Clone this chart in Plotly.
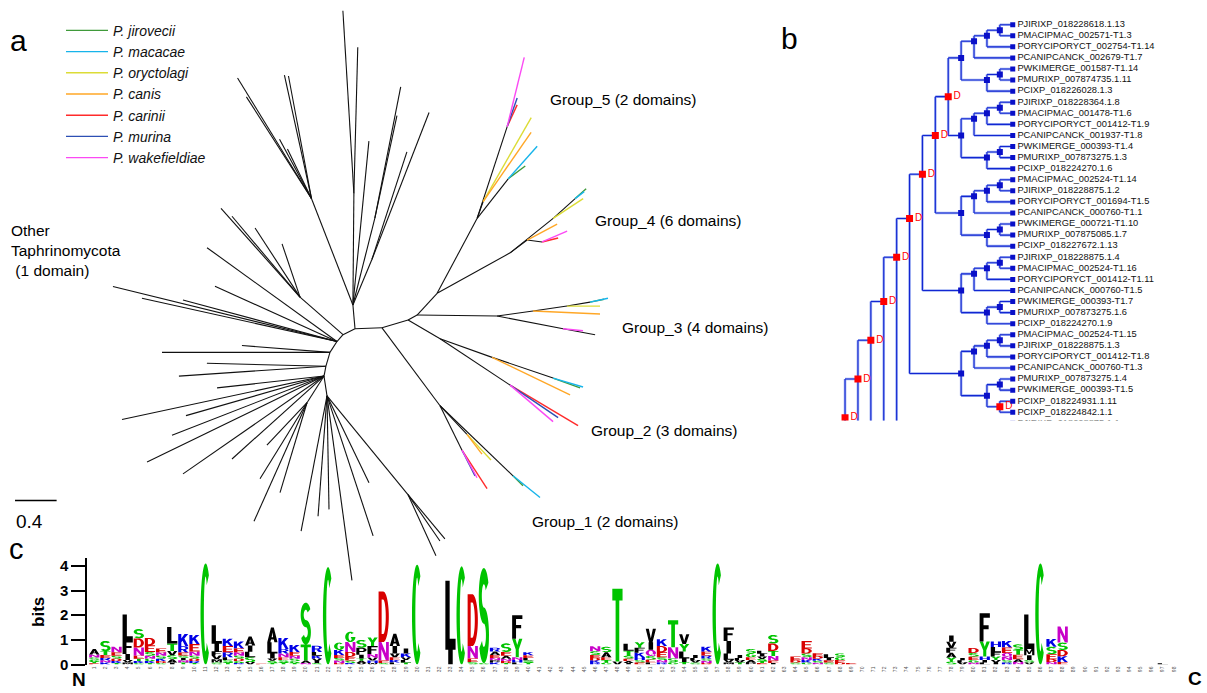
import math
import plotly.graph_objects as go

FW, FH = 1207, 693
FONT = "Liberation Sans, Arial, sans-serif"

# ====================== Panel a : unrooted tree ======================
species_names = ["P. jirovecii", "P. macacae", "P. oryctolagi", "P. canis",
                 "P. carinii", "P. murina", "P. wakefieldiae"]
species_keys = ["jir", "mac", "ory", "can", "car", "mur", "wak"]
species_colors = ["#3f9a3a", "#17b4ea", "#dcdc36", "#ffa726",
                  "#ff2b2b", "#2d4fb4", "#fb49f4"]

# branch table: (node, parent, angle in degrees, branch length, clade key)
tree_branches = [
    ("N1", "R", 79, 0.098, "k"), ("N2", "N1", 74, 0.140, "k"),
    ("N3", "N2", 57.5, 0.125, "k"), ("N4", "N3", 49, 0.089, "k"),
    ("N5", "N4", 26.6, 0.129, "k"), ("N6", "N5", 2, 0.260, "k"),
    ("N7", "N6", 17, 0.262, "k"), ("N8", "N7", 29, 0.099, "k"),
    ("N9", "N8", 47.7, 0.286, "k"),
    # top fan
    ("T0", "N5", 95, 0.232, "k"), ("T1", "T0", 89.5, 1.087, "k"),
    ("t1", "T1", 93.4, 1.782, "k"), ("t2", "T1", 88.5, 1.424, "k"),
    ("t3", "T0", 84.5, 1.604, "k"), ("T2", "T0", 76, 0.872, "k"),
    ("t4", "T2", 79, 1.303, "k"), ("t5", "T2", 78, 1.022, "k"),
    ("T3", "T0", 67.6, 0.479, "k"), ("t6", "T3", 69, 1.534, "k"),
    ("t7", "T3", 72.2, 1.101, "k"),
    # upper-left fan
    ("U0", "T0", 111, 1.112, "k"), ("u1", "U0", 121.2, 1.372, "k"),
    ("u2", "U0", 122.3, 1.171, "k"), ("u3", "U0", 102.2, 1.230, "k"),
    ("u4", "U0", 100.5, 1.213, "k"), ("u5", "U0", 118, 0.654, "k"),
    ("u6", "U0", 115.6, 0.534, "k"),
    # left side (other Taphrinomycota)
    ("L1", "N4", 138.5, 0.552, "k"), ("l1", "L1", 131.3, 1.151, "k"),
    ("l2", "L1", 129.7, 1.024, "k"), ("l3", "L1", 122.7, 0.800, "k"),
    ("l4", "L1", 108.4, 0.547, "k"), ("l5", "N3", 143.8, 1.548, "k"),
    ("l6", "N3", 166, 2.220, "k"), ("l7", "N3", 167.3, 1.922, "k"),
    ("l8", "N3", 155.3, 1.291, "k"), ("l9", "N3", 164.7, 1.535, "k"),
    ("l10", "N2", 180, 1.615, "k"), ("l11", "N2", 175.5, 0.849, "k"),
    ("l12", "N1", 178.6, 1.145, "k"), ("l13", "N1", 183.9, 1.417, "k"),
    ("l14", "R", 186.4, 1.035, "k"), ("l15", "R", 192.3, 1.988, "k"),
    ("l16", "R", 196.2, 1.382, "k"), ("l17", "R", 201.5, 1.571, "k"),
    ("l18", "R", 206.2, 1.896, "k"), ("l19", "R", 215.1, 1.657, "k"),
    ("l20", "R", 222.4, 1.198, "k"), ("L2", "R", 237.8, 0.307, "k"),
    ("l21", "L2", 227, 0.565, "k"), ("l22", "L2", 238.6, 0.867, "k"),
    ("l23", "L2", 253.5, 0.913, "k"), ("l24", "L2", 246.2, 1.262, "k"),
    # bottom fan
    ("B0", "R", 278.5, 0.195, "k"), ("b1", "B0", 259.3, 1.341, "k"),
    ("b2", "B0", 265.8, 1.176, "k"), ("b3", "B0", 271, 1.106, "k"),
    ("b4", "B0", 277.6, 1.814, "k"), ("b5", "B0", 288, 1.435, "k"),
    ("b6", "B0", 295.5, 0.938, "k"), ("B1", "B0", 309, 1.237, "k"),
    ("b7", "B1", 294.3, 0.654, "k"), ("b8", "B1", 309.4, 0.560, "k"),
    ("b9", "B1", 304.2, 0.547, "k"),
    # Group_1
    ("G1a", "N6", 306.3, 0.942, "k"), ("G1b", "G1a", 312.9, 0.381, "k"),
    ("g1", "G1b", 306.9, 0.240, "can"), ("g2", "G1b", 312.7, 0.340, "ory"),
    ("G1c", "G1a", 296, 0.482, "k"), ("g3", "G1c", 298.2, 0.305, "wak"),
    ("g4", "G1c", 296.6, 0.280, "mur"), ("g5", "G1c", 302.7, 0.446, "car"),
    ("G1d", "G1a", 315.8, 0.979, "k"), ("g6", "G1d", 315, 0.136, "jir"),
    ("g7", "G1d", 320.8, 0.335, "mac"),
    # Group_2
    ("G2a", "N7", 329.3, 0.358, "k"), ("G2b", "G2a", 326.1, 0.811, "k"),
    ("g8", "G2b", 319.3, 0.545, "wak"), ("g9", "G2b", 325.5, 0.560, "mur"),
    ("g10", "G2b", 328.9, 0.763, "car"), ("G2c", "G2a", 340, 0.532, "k"),
    ("g11", "G2c", 334, 0.834, "can"), ("G2d", "G2c", 341, 0.620, "k"),
    ("g12", "G2d", 339.7, 0.277, "jir"), ("g13", "G2d", 343.3, 0.301, "mac"),
    # Group_3
    ("G3a", "N8", 359.3, 0.769, "k"), ("G3b", "G3a", 7.9, 0.349, "k"),
    ("g14", "G3b", 357.4, 0.645, "can"), ("G3c", "G3b", 8.4, 0.331, "k"),
    ("g15", "G3c", 0, 0.317, "ory"), ("G3d", "G3c", 9.9, 0.224, "k"),
    ("g16", "G3d", 12, 0.138, "jir"), ("g17", "G3d", 12.5, 0.177, "mac"),
    ("G3f", "G3a", 348.9, 0.647, "k"), ("g18", "G3f", 349.4, 0.313, "k"),
    ("g19", "G3f", 354.3, 0.193, "wak"),
    # Group_4
    ("G4a", "N9", 29.3, 0.805, "k"), ("G4b", "G4a", 39.1, 0.533, "k"),
    ("G4c", "G4b", 42.3, 0.286, "k"), ("g20", "G4c", 42.3, 0.143, "jir"),
    ("g21", "G4c", 37.9, 0.110, "mac"), ("g22", "G4b", 33.7, 0.347, "ory"),
    ("G4d", "G4a", 37.4, 0.206, "k"), ("g23", "G4d", 28.1, 0.327, "can"),
    ("G4e", "G4d", 352.4, 0.145, "k"), ("g24", "G4e", 23.7, 0.263, "wak"),
    ("g25", "G4e", 14, 0.159, "car"),
    # Group_5
    ("G5a", "N9", 62.2, 0.826, "k"), ("G5b", "G5a", 72.1, 0.939, "k"),
    ("g26", "G5b", 76.3, 0.693, "wak"), ("g27", "G5b", 71, 0.295, "mur"),
    ("g28", "G5b", 65.6, 0.232, "car"), ("G5c", "G5a", 70.6, 0.173, "k"),
    ("g29", "G5c", 60.5, 0.939, "ory"), ("g30", "G5c", 55.6, 0.816, "can"),
    ("G5d", "G5a", 52.2, 0.487, "k"), ("g31", "G5d", 48.7, 0.422, "mac"),
    ("g32", "G5d", 37.4, 0.206, "jir"),
]
group_labels = ["Group_5 (2 domains)", "Group_4 (6 domains)", "Group_3 (4 domains)",
                "Group_2 (3 domains)", "Group_1 (2 domains)"]
other_label = "Other<br>Taphrinomycota<br>\u00a0(1 domain)"
scale_bar_length = 0.4

# ====================== Panel b : gene tree ======================
b_leaf_names = [
    "PJIRIXP_018228618.1.13", "PMACIPMAC_002571-T1.3", "PORYCIPORYCT_002754-T1.14",
    "PCANIPCANCK_002679-T1.7", "PWKIMERGE_001587-T1.14", "PMURIXP_007874735.1.11",
    "PCIXP_018226028.1.3", "PJIRIXP_018228364.1.8", "PMACIPMAC_001478-T1.6",
    "PORYCIPORYCT_001412-T1.9", "PCANIPCANCK_001937-T1.8", "PWKIMERGE_000393-T1.4",
    "PMURIXP_007873275.1.3", "PCIXP_018224270.1.6", "PMACIPMAC_002524-T1.14",
    "PJIRIXP_018228875.1.2", "PORYCIPORYCT_001694-T1.5", "PCANIPCANCK_000760-T1.1",
    "PWKIMERGE_000721-T1.10", "PMURIXP_007875085.1.7", "PCIXP_018227672.1.13",
    "PJIRIXP_018228875.1.4", "PMACIPMAC_002524-T1.16", "PORYCIPORYCT_001412-T1.11",
    "PCANIPCANCK_000760-T1.5", "PWKIMERGE_000393-T1.7", "PMURIXP_007873275.1.6",
    "PCIXP_018224270.1.9", "PMACIPMAC_002524-T1.15", "PJIRIXP_018228875.1.3",
    "PORYCIPORYCT_001412-T1.8", "PCANIPCANCK_000760-T1.3", "PMURIXP_007873275.1.4",
    "PWKIMERGE_000393-T1.5", "PCIXP_018224931.1.11", "PCIXP_018224842.1.1",
    "PJIRIXP_018228875.1.1",
]
b_groups = [
    ((((0, 1), 2), 3), ((4, 5), 6)),
    ((((7, 8), 9), 10), ((11, 12), 13)),
    ((((14, 15), 16), 17), ((18, 19), 20)),
    ((((21, 22), 23), 24), ((25, 26), 27)),
    ((((28, 29), 30), 31), ((32, 33), (34, 35))),
    ((((36, 37), 38), 39), ((40, 41), 42)),
    ((((43, 44), 45), 46), ((47, 48), (49, 50))),
    ((((51, 52), 53), 54), ((55, 56), 57)),
    ((((58, 59), 60), 61), ((62, 63), 64)),
    ((((65, 66), 67), 68), ((69, 70), 71)),
]
b_duplication_spans = [(0, 13), (0, 20), (0, 27), (0, 35), (0, 42), (0, 50),
                       (0, 57), (0, 64), (0, 71), (34, 35)]

# ====================== Panel c : sequence logo ======================
logo_stacks = {
    0: [("A", .22), ("N", .12), ("S", .1), ("G", .08), ("T", .06), ("E", .05)],
    1: [("S", .42), ("T", .15), ("E", .12), ("R", .1), ("N", .09), ("K", .08)],
    2: [("N", .22), ("E", .14), ("S", .12), ("D", .1), ("K", .08), ("T", .06)],
    3: [("L", 1.05), ("F", .55), ("I", .25), ("V", .1), ("M", .08)],
    4: [("S", .38), ("D", .37), ("N", .33), ("E", .12), ("T", .1), ("K", .08), ("G", .06)],
    5: [("D", .3), ("E", .27), ("S", .15), ("N", .12), ("G", .1), ("K", .08), ("T", .06)],
    6: [("E", .15), ("N", .14), ("S", .12), ("K", .1), ("D", .08), ("G", .06)],
    7: [("L", .67), ("T", .3), ("V", .17), ("S", .16), ("A", .14), ("I", .08)],
    8: [("K", .5), ("R", .25), ("E", .12), ("I", .1), ("S", .1), ("N", .09), ("T", .08)],
    9: [("K", .37), ("E", .3), ("N", .17), ("S", .12), ("D", .1), ("R", .08), ("T", .06)],
    10: [("C", 4.1)],
    11: [("L", .75), ("I", .3), ("F", .17), ("V", .15), ("M", .14), ("S", .08)],
    12: [("K", .3), ("E", .25), ("R", .2), ("L", .12), ("S", .1), ("T", .08)],
    13: [("K", .28), ("E", .15), ("N", .14), ("S", .12), ("D", .1), ("G", .08), ("R", .06)],
    14: [("A", .37), ("I", .25), ("L", .22), ("S", .2), ("V", .1)],
    15: [("E", .03)],
    16: [("A", .6), ("L", .45), ("I", .2), ("V", .1), ("S", .09), ("T", .06)],
    17: [("K", .45), ("R", .18), ("N", .15), ("E", .12), ("S", .1), ("T", .08)],
    18: [("K", .28), ("E", .15), ("N", .12), ("S", .1), ("G", .08), ("T", .06)],
    19: [("S", 1.7), ("T", .65), ("A", .1), ("N", .06)],
    20: [("R", .25), ("L", .15), ("K", .12), ("V", .1), ("I", .08), ("S", .06)],
    21: [("C", 3.95)],
    22: [("G", .3), ("K", .2), ("E", .12), ("S", .11), ("N", .1), ("D", .06)],
    23: [("G", .42), ("N", .4), ("D", .2), ("E", .15), ("S", .1), ("K", .06)],
    24: [("S", .32), ("P", .28), ("I", .15), ("T", .1), ("A", .09), ("V", .06)],
    25: [("Y", .35), ("F", .32), ("N", .15), ("V", .12), ("H", .1), ("W", .06)],
    26: [("D", 2.05), ("N", .75), ("E", .1), ("S", .06)],
    27: [("A", .5), ("I", .3), ("V", .15), ("E", .12), ("K", .1), ("L", .08)],
    28: [("I", .2), ("K", .15), ("V", .12), ("L", .1), ("T", .08)],
    29: [("C", 4.05)],
    32: [("L", 2.8), ("I", .6)],
    33: [("C", 3.98)],
    34: [("D", 2.1), ("N", .5), ("E", .15), ("S", .1)],
    35: [("S", 3.85), ("G", .06)],
    36: [("R", .15), ("A", .14), ("E", .12), ("N", .1), ("P", .09), ("K", .08)],
    37: [("S", .35), ("E", .15), ("A", .12), ("N", .1), ("D", .08), ("T", .06)],
    38: [("F", .95), ("Y", .75), ("N", .12), ("H", .1), ("L", .08)],
    39: [("K", .12), ("E", .11), ("L", .1), ("S", .09), ("T", .08)],
    45: [("N", .2), ("S", .15), ("E", .12), ("D", .1), ("K", .09), ("R", .08)],
    46: [("S", .22), ("A", .2), ("E", .12), ("T", .1), ("G", .08)],
    47: [("T", 2.95), ("V", .12)],
    48: [("L", .28), ("T", .2), ("S", .12), ("E", .1), ("A", .08), ("I", .06)],
    49: [("Y", .22), ("F", .2), ("K", .18), ("H", .12), ("S", .1), ("E", .08)],
    50: [("V", .55), ("I", .3), ("Q", .25), ("S", .15), ("E", .12), ("L", .08)],
    51: [("K", .28), ("D", .25), ("E", .2), ("S", .12), ("N", .1), ("R", .08)],
    52: [("T", 1.1), ("N", .45), ("S", .15), ("G", .1)],
    53: [("V", .4), ("Y", .3), ("L", .28), ("I", .15), ("T", .1)],
    54: [("I", .12), ("L", .1), ("V", .09), ("S", .08)],
    55: [("K", .2), ("E", .15), ("R", .12), ("S", .1), ("N", .09), ("D", .06)],
    56: [("C", 4.1)],
    57: [("F", .55), ("I", .5), ("L", .25), ("V", .12), ("M", .08)],
    58: [("I", .12), ("L", .1), ("V", .09), ("T", .08)],
    59: [("S", .18), ("G", .15), ("E", .12), ("A", .1), ("P", .08)],
    60: [("L", .12), ("I", .11), ("V", .1), ("S", .09), ("T", .08), ("E", .06)],
    61: [("S", .35), ("D", .3), ("T", .2), ("N", .19), ("E", .1), ("I", .06)],
    63: [("E", .15), ("D", .1), ("S", .08)],
    64: [("E", .3), ("D", .2), ("S", .15), ("N", .12), ("K", .1), ("G", .08)],
    65: [("E", .12), ("D", .1), ("K", .09), ("S", .08), ("N", .07)],
    66: [("L", .15), ("I", .1), ("E", .09), ("S", .08)],
    67: [("S", .15), ("G", .12), ("E", .1), ("D", .08)],
    68: [("E", .06)],
    77: [("I", .26), ("V", .24), ("F", .2), ("A", .19), ("Y", .17), ("S", .12)],
    78: [("I", .1), ("L", .09), ("V", .08)],
    79: [("D", .2), ("S", .15), ("E", .14), ("G", .1), ("N", .08)],
    80: [("F", 1.15), ("Y", .6), ("H", .15), ("I", .1), ("L", .08)],
    81: [("H", .22), ("L", .2), ("F", .18), ("Y", .15), ("V", .1), ("I", .08)],
    82: [("K", .27), ("E", .22), ("Q", .15), ("N", .14), ("S", .1), ("R", .08)],
    83: [("S", .22), ("T", .2), ("E", .18), ("A", .12), ("N", .1)],
    84: [("L", 1.4), ("M", .25), ("I", .2), ("S", .1), ("V", .08)],
    85: [("C", 4.1)],
    86: [("K", .32), ("S", .3), ("E", .2), ("D", .12), ("N", .1)],
    87: [("N", .65), ("S", .3), ("D", .25), ("K", .24), ("E", .1)],
    96: [("L", .05)],
}
logo_n_columns = 98
aa_classes = {"G": "polar", "S": "polar", "T": "polar", "Y": "polar", "C": "polar",
              "N": "neutral", "Q": "neutral", "K": "basic", "R": "basic", "H": "basic",
              "D": "acidic", "E": "acidic"}
class_colors = {"polar": "#00c400", "neutral": "#c800c8", "basic": "#0000e6",
                "acidic": "#d80000", "hydrophobic": "#000000"}

# ---------------------------------------------------------------------
def arc(cx, cy, rx, ry, a0, a1, n=32):
    pts = []
    for k in range(n + 1):
        t = math.radians(a0 + (a1 - a0) * k / n)
        pts.append((cx + rx * math.cos(t), cy + ry * math.sin(t)))
    return pts


def holed(outer, hole):
    return outer + [outer[0]] + hole + [hole[0], outer[0]]


SIMPLE = {
    "L": [(0, 0), (1, 0), (1, .16), (.42, .16), (.42, 1), (0, 1)],
    "I": [(.28, 0), (.72, 0), (.72, 1), (.28, 1)],
    "T": [(.32, 0), (.68, 0), (.68, .84), (1, .84), (1, 1), (0, 1), (0, .84), (.32, .84)],
    "F": [(0, 0), (.38, 0), (.38, .44), (.88, .44), (.88, .58), (.38, .58), (.38, .84),
          (1, .84), (1, 1), (0, 1)],
    "E": [(0, 0), (1, 0), (1, .15), (.34, .15), (.34, .43), (.9, .43), (.9, .57),
          (.34, .57), (.34, .85), (1, .85), (1, 1), (0, 1)],
    "H": [(0, 0), (.3, 0), (.3, .43), (.7, .43), (.7, 0), (1, 0), (1, 1), (.7, 1),
          (.7, .58), (.3, .58), (.3, 1), (0, 1)],
    "K": [(0, 0), (.3, 0), (.3, .33), (.42, .46), (.7, 0), (1, 0), (.6, .63), (.98, 1),
          (.62, 1), (.3, .64), (.3, 1), (0, 1)],
    "N": [(0, 0), (.27, 0), (.27, .62), (.72, 0), (1, 0), (1, 1), (.73, 1), (.73, .38),
          (.28, 1), (0, 1)],
    "M": [(0, 0), (.22, 0), (.22, .7), (.42, .2), (.58, .2), (.78, .7), (.78, 0), (1, 0),
          (1, 1), (.72, 1), (.5, .45), (.28, 1), (0, 1)],
    "V": [(.33, 0), (.67, 0), (1, 1), (.7, 1), (.5, .3), (.3, 1), (0, 1)],
    "Y": [(.35, 0), (.65, 0), (.65, .42), (1, 1), (.68, 1), (.5, .66), (.32, 1), (0, 1),
          (.35, .42)],
    "W": [(0, 1), (.15, 0), (.36, 0), (.5, .55), (.64, 0), (.85, 0), (1, 1), (.8, 1),
          (.72, .4), (.58, 1), (.42, 1), (.28, .4), (.2, 1)],
}


def glyph(ch):
    if ch == "C":
        return [arc(.5, .5, .5, .5, 50, 310) + arc(.5, .5, .17, .37, 310, 50)]
    if ch == "G":
        return [arc(.5, .5, .5, .5, 48, 360) + [(.56, .5), (.56, .36)]
                + arc(.5, .5, .17, .37, 335, 48)]
    if ch in ("O", "Q"):
        ring = holed(arc(.5, .5, .5, .5, 0, 360), arc(.5, .5, .2, .34, 360, 0))
        if ch == "Q":
            return [ring, [(.55, .28), (.78, .28), (1, 0), (.76, 0)]]
        return [ring]
    if ch == "S":
        hx, hy = .15, .085
        rx, ry = .5 - hx, (1 - 2 * hy) / 4
        cu, cl = 1 - ry - hy, ry + hy
        a = arc(.5, cu, rx + hx, ry + hy, 28, 270) + arc(.5, cl, rx - hx, ry - hy, 90, -152)
        b = arc(.5, cu, rx - hx, ry - hy, 28, 270) + arc(.5, cl, rx + hx, ry + hy, 90, -152)
        return [a + b[::-1]]
    if ch == "D":
        o = [(0, 0), (.45, 0)] + arc(.45, .5, .55, .5, -90, 90)[1:-1] + [(.45, 1), (0, 1)]
        h = [(.3, .16), (.3, .84), (.45, .84)] + arc(.45, .5, .25, .34, 90, -90)[1:-1] + [(.45, .16)]
        return [holed(o, h)]
    if ch == "P":
        o = [(0, 0), (.3, 0), (.3, .38), (.55, .38)] + arc(.55, .69, .45, .31, -90, 90)[1:-1] + [(.55, 1), (0, 1)]
        h = [(.3, .52), (.3, .86), (.55, .86)] + arc(.55, .69, .17, .17, 90, -90)[1:-1] + [(.55, .52)]
        return [holed(o, h)]
    if ch == "R":
        o = [(0, 0), (.3, 0), (.3, .42), (.55, .42)] + arc(.55, .71, .43, .29, -90, 90)[1:-1] + [(.55, 1), (0, 1)]
        h = [(.3, .55), (.3, .87), (.55, .87)] + arc(.55, .71, .16, .16, 90, -90)[1:-1] + [(.55, .55)]
        return [holed(o, h), [(.4, .46), (.72, .46), (1, 0), (.68, 0)]]
    if ch == "A":
        o = [(0, 0), (.3, 0), (.37, .2), (.63, .2), (.7, 0), (1, 0), (.64, 1), (.36, 1)]
        h = [(.43, .34), (.5, .68), (.57, .34)]
        return [holed(o, h)]
    return [SIMPLE.get(ch, [(0, 0), (1, 0), (1, 1), (0, 1)])]


def ann(text, x, y, size, xanchor="left", yanchor="middle", **kw):
    d = dict(text=text, x=x / FW, y=1 - y / FH, xref="paper", yref="paper",
             showarrow=False, xanchor=xanchor, yanchor=yanchor,
             font=dict(size=size, color="black", family=FONT))
    d.update(kw)
    return d


fig = go.Figure()

# ---------------- panel a traces ----------------
pos = {"R": (0.0, 0.0)}
segs = {k: ([], []) for k in ["k"] + species_keys}
for node, parent, ang, ln, key in tree_branches:
    x0, y0 = pos[parent]
    t = math.radians(ang)
    x1, y1 = x0 + ln * math.cos(t), y0 + ln * math.sin(t)
    pos[node] = (x1, y1)
    segs[key][0].extend([x0, x1, None])
    segs[key][1].extend([y0, y1, None])

fig.add_trace(go.Scatter(x=segs["k"][0], y=segs["k"][1], mode="lines",
                         line=dict(color="#111111", width=1.1), showlegend=False,
                         hoverinfo="skip", xaxis="x", yaxis="y"))
for i, key in enumerate(species_keys):
    fig.add_trace(go.Scatter(x=segs[key][0], y=segs[key][1], mode="lines",
                             line=dict(color=species_colors[i], width=1.4),
                             name=species_names[i], legendrank=i + 1,
                             hoverinfo="skip", xaxis="x", yaxis="y"))
# scale bar
sb_x0, sb_y = -2.971, -1.2115
fig.add_trace(go.Scatter(x=[sb_x0, sb_x0 + scale_bar_length], y=[sb_y, sb_y], mode="lines",
                         line=dict(color="black", width=1.5), showlegend=False,
                         hoverinfo="skip", xaxis="x", yaxis="y"))

# ---------------- panel b traces ----------------
b_tree = b_groups[0]
for g in b_groups[1:]:
    b_tree = (b_tree, g)


def layout_b(node):
    if isinstance(node, int):
        return {"x": 0, "y": node, "h": 0, "leaves": [node], "kids": []}
    kids = [layout_b(c) for c in node]
    h = 1 + max(k["h"] for k in kids)
    leaves = sum((k["leaves"] for k in kids), [])
    return {"x": -h, "y": sum(leaves) / len(leaves), "h": h, "leaves": leaves, "kids": kids}


broot = layout_b(b_tree)
lx, ly = [], []
nodes_blue, nodes_red, leaves_xy = ([], []), ([], []), ([], [], [])


def walk(n):
    if not n["kids"]:
        i = n["leaves"][0]
        leaves_xy[0].append(n["x"])
        leaves_xy[1].append(n["y"])
        leaves_xy[2].append(b_leaf_names[i] if i < len(b_leaf_names) else "")
        return
    ys = [k["y"] for k in n["kids"]]
    lx.extend([n["x"], n["x"], None])
    ly.extend([min(ys), max(ys), None])
    for k in n["kids"]:
        lx.extend([n["x"], k["x"], None])
        ly.extend([k["y"], k["y"], None])
        walk(k)
    span = (min(n["leaves"]), max(n["leaves"]))
    tgt = nodes_red if span in b_duplication_spans else nodes_blue
    tgt[0].append(n["x"])
    tgt[1].append(n["y"])


walk(broot)
LABEL_GAP = 0.36  # gap between leaf square and its label, in tree-level units
for col, wdt in (("#9fb0f2", 2.6), ("#1226d2", 1.1)):
    fig.add_trace(go.Scatter(x=lx, y=ly, mode="lines", line=dict(color=col, width=wdt),
                             showlegend=False, hoverinfo="skip", xaxis="x2", yaxis="y2"))
fig.add_trace(go.Scatter(x=nodes_blue[0], y=nodes_blue[1], mode="markers",
                         marker=dict(symbol="square", size=6, color="#0a10c8"),
                         showlegend=False, hoverinfo="skip", xaxis="x2", yaxis="y2"))
fig.add_trace(go.Scatter(x=nodes_red[0], y=nodes_red[1], mode="markers+text",
                         marker=dict(symbol="square", size=7, color="#ff0000"),
                         text=["D"] * len(nodes_red[0]), textposition="middle right",
                         textfont=dict(color="#ff0000", size=10, family=FONT),
                         showlegend=False, hoverinfo="skip", xaxis="x2", yaxis="y2"))
fig.add_trace(go.Scatter(x=leaves_xy[0], y=leaves_xy[1], mode="markers",
                         marker=dict(symbol="square", size=5, color="#0a10c8"),
                         showlegend=False, hoverinfo="skip", xaxis="x2", yaxis="y2"))
fig.add_trace(go.Scatter(x=[v + LABEL_GAP for v in leaves_xy[0]], y=leaves_xy[1], mode="text",
                         text=leaves_xy[2], textposition="middle right",
                         textfont=dict(color="#111111", size=9.3, family=FONT),
                         showlegend=False, hoverinfo="skip", xaxis="x2", yaxis="y2"))

# ---------------- panel c traces ----------------
poly_by_class = {c: ([], []) for c in class_colors}
LW = 0.92
for col_idx, stack in logo_stacks.items():
    base = 0.0
    for letter, bits in sorted(stack, key=lambda s: s[1]):
        cls = aa_classes.get(letter, "hydrophobic")
        for poly in glyph(letter):
            for gx, gy in poly:
                poly_by_class[cls][0].append(col_idx - LW / 2 + gx * LW)
                poly_by_class[cls][1].append(base + gy * bits)
            poly_by_class[cls][0].append(None)
            poly_by_class[cls][1].append(None)
        base += bits
for cls, (xs, ys) in poly_by_class.items():
    if not xs:
        continue
    fig.add_trace(go.Scatter(x=xs, y=ys, mode="lines", fill="toself",
                             fillcolor=class_colors[cls],
                             line=dict(width=0, color=class_colors[cls], simplify=False),
                             showlegend=False, hoverinfo="skip", xaxis="x3", yaxis="y3"))

# ---------------- layout ----------------
hidden = dict(visible=False, showgrid=False, zeroline=False)
annotations = [
    ann("a", 8, 40, 30),
    ann("b", 779, 38, 30),
    ann("c", 7, 555, 29),
    ann(group_labels[0], 548, 100, 15.5),
    ann(group_labels[1], 593, 222, 15.5),
    ann(group_labels[2], 620, 331, 15.5),
    ann(group_labels[3], 589, 435, 15.5),
    ann(group_labels[4], 530, 527, 15.5),
    ann(other_label, 9, 222, 15.5, yanchor="top", align="left"),
    ann("0.4", 14, 527, 19),
    ann("<b>bits</b>", 39, 619, 17, xanchor="center", textangle=-90),
    ann("<b>N</b>", 79, 687, 19, xanchor="center"),
    ann("<b>C</b>", 1195, 686, 19, xanchor="center"),
]

fig.update_layout(
    width=FW, height=FH, margin=dict(l=0, r=0, t=0, b=0),
    paper_bgcolor="white", plot_bgcolor="rgba(0,0,0,0)",
    font=dict(family=FONT, color="black"),
    showlegend=True,
    legend=dict(x=61 / FW, y=1 - 14 / FH, xanchor="left", yanchor="top",
                bgcolor="rgba(0,0,0,0)", itemwidth=42, tracegroupgap=0,
                font=dict(size=14, family=FONT, style="italic", color="#111111")),
    xaxis=dict(domain=[0, 770 / FW], range=[-3.1154, 4.2885], **hidden),
    yaxis=dict(domain=[0, 1], range=[-3.0096, 3.6538], **hidden),
    xaxis2=dict(domain=[775 / FW, 1], range=[-18.43, 15.06], **hidden),
    yaxis2=dict(domain=[1 - 425 / FH, 1], range=[35.74, -2.139], **hidden),
    xaxis3=dict(domain=[87.3 / FW, 1190 / FW], range=[-0.629, 98.44], showgrid=False,
                zeroline=False, showline=False, ticks="",
                tickvals=list(range(logo_n_columns)),
                ticktext=[str(i + 1) for i in range(logo_n_columns)],
                tickangle=-90, tickfont=dict(size=5, color="#555555")),
    yaxis3=dict(domain=[1 - 672.3 / FH, 1 - 564.8 / FH], range=[0, 4.3], showgrid=False,
                zeroline=False, showline=True, linecolor="black", linewidth=2,
                ticks="outside", ticklen=14, tickwidth=2, tickcolor="black",
                tickvals=[0, 1, 2, 3, 4], ticktext=["<b>%d</b>" % v for v in range(5)],
                tickfont=dict(size=15, color="black"), anchor="x3"),
    annotations=annotations,
    hovermode=False,
)
fig.update_layout(xaxis3_anchor="y3")

fig.write_html("out.html", config={"displayModeBar": False},
               post_script="document.body.style.margin='0';"
                           "document.body.style.overflow='hidden';")
